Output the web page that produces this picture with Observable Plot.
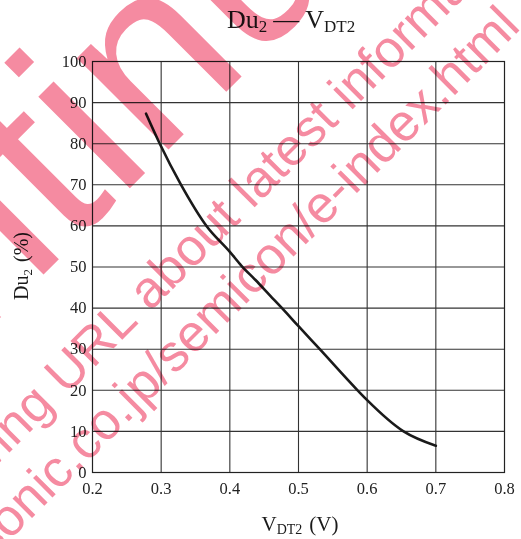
<!DOCTYPE html>
<html><head><meta charset="utf-8">
<script src="https://cdn.jsdelivr.net/npm/d3@7"></script>
<script src="https://cdn.jsdelivr.net/npm/@observablehq/plot@0.6"></script>
<style>
html,body{margin:0;padding:0;background:#fff;}
#chart svg{display:block;}
</style></head><body><div id="chart"></div>
<script>
// Curve: Du2 (%) vs VDT2 (V)
const vdt2 = [0.278, 0.298, 0.329, 0.366, 0.400, 0.417, 0.437, 0.459, 0.476, 0.500, 0.531, 0.586, 0.600, 0.653, 0.700];
const du2  = [87.3, 80.0, 70.0, 60.0, 53.7, 50.3, 46.9, 43.0, 40.0, 35.6, 30.0, 20.0, 17.6, 10.0, 6.5];
const xTicks = [0.2, 0.3, 0.4, 0.5, 0.6, 0.7, 0.8];
const yTicks = [0, 10, 20, 30, 40, 50, 60, 70, 80, 90, 100];
const watermarkBig = ["Discon", "tinued"];
const watermarkLine1 = ["Please visit following URL", "about latest information."];
const watermarkLine2 = "http://panasonic.co.jp/semicon/e-index.html";

const data = vdt2.map((v, i) => ({v, d: du2[i]}));
const serif = "'Liberation Serif', 'Times New Roman', serif";

const plot = Plot.plot({
  width: 521, height: 539,
  marginLeft: 92, marginRight: 17, marginTop: 61, marginBottom: 67,
  x: {domain: [0.2, 0.8], label: null},
  y: {domain: [0, 100], label: null},
  style: {fontFamily: serif, fontSize: "16.5px", color: "#222", background: "#fff", overflow: "visible"},
  marks: [
    Plot.gridX(xTicks.slice(1, -1), {stroke: "#333", strokeOpacity: 1, strokeWidth: 1.1}),
    Plot.gridY(yTicks.slice(1, -1), {stroke: "#333", strokeOpacity: 1, strokeWidth: 1.1}),
    Plot.frame({stroke: "#222", strokeWidth: 1.2}),
    Plot.axisX(xTicks, {tickSize: 0, tickPadding: 10, tickFormat: d => d.toFixed(1), label: null, fill: "#222"}),
    Plot.axisY(yTicks, {tickSize: 0, tickPadding: 6, label: null, fill: "#222"}),
    Plot.line(data, {x: "v", y: "d", curve: "monotone-x", stroke: "#1a1a1a", strokeWidth: 2.6})
  ]
});
document.getElementById("chart").appendChild(plot);

const svg = d3.select(plot);
const txt = svg.append("g").attr("font-family", serif).attr("fill", "#1a1a1a").attr("text-anchor", "start");

// Title: Du2 — VDT2
const t = txt.append("text").attr("x", 227).attr("y", 28).attr("font-size", 26);
t.append("tspan").text("Du");
t.append("tspan").attr("font-size", 17).attr("dy", 4).text("2");
t.append("tspan").attr("dy", -4).attr("dx", 6).text("—");
t.append("tspan").attr("dx", 6).text("V");
t.append("tspan").attr("font-size", 17).attr("dy", 4).text("DT2");

// Y label: Du2 (%)
const yl = txt.append("text").attr("transform", "translate(28,266) rotate(-90)")
  .attr("text-anchor", "middle").attr("font-size", 20);
yl.append("tspan").text("Du");
yl.append("tspan").attr("font-size", 13).attr("dy", 4).text("2");
yl.append("tspan").attr("dy", -4).attr("dx", 7).text("(%)");

// X label: VDT2 (V)
const xl = txt.append("text").attr("x", 300).attr("y", 531).attr("text-anchor", "middle").attr("font-size", 21);
xl.append("tspan").text("V");
xl.append("tspan").attr("font-size", 14).attr("dy", 3).text("DT2");
xl.append("tspan").attr("dy", -3).attr("dx", 7).text("(V)");

// Watermark overlay
const wm = svg.append("g").attr("style", "mix-blend-mode:multiply").attr("fill", "#f58ba1")
  .attr("text-anchor", "start")
  .attr("font-family", "'Liberation Sans', Arial, sans-serif");
const g1 = wm.append("g").attr("transform", "translate(70,248) rotate(-45)").attr("font-size", 245);
g1.append("text").attr("text-anchor", "end").text(watermarkBig[0]);
g1.append("text").attr("text-anchor", "start").text(watermarkBig[1]);
const g2 = wm.append("g").attr("transform", "translate(150,312) rotate(-45)").attr("font-size", 52);
g2.append("text").attr("x", -14.5).attr("text-anchor", "end").text(watermarkLine1[0]);
g2.append("text").attr("text-anchor", "start").text(watermarkLine1[1]);
wm.append("text").attr("transform", "translate(522,28) rotate(-45)").attr("font-size", 52)
  .attr("text-anchor", "end").text(watermarkLine2);
</script>
</body></html>
